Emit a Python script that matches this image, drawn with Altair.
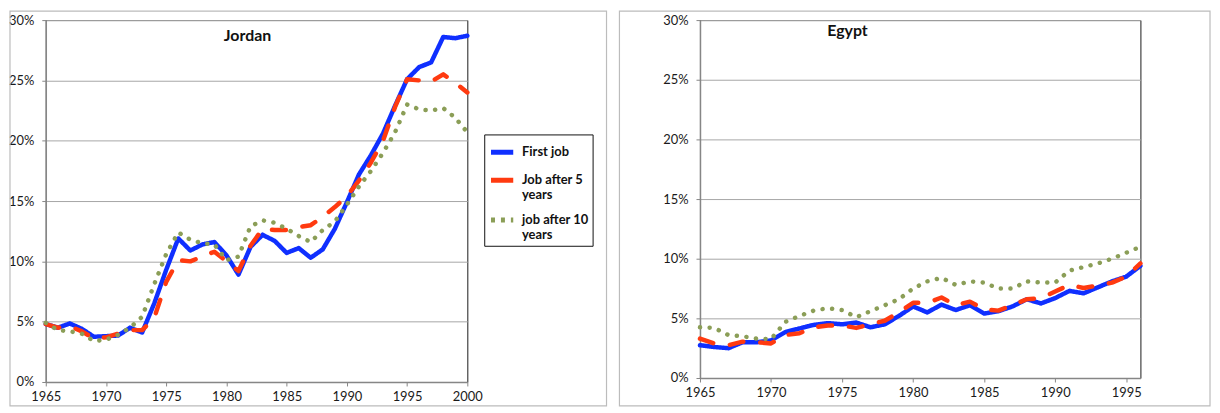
import altair as alt
import pandas as pd

# ---------------- data (percent of workers) ----------------
series_names = ["First job", "Job after 5 years", "job after 10 years"]
series_colors = ["#0f2fff", "#ff3a10", "#8b9e57"]

jordan_years = list(range(1965, 2001))
jordan_first = [4.8, 4.5, 4.85, 4.4, 3.75, 3.8, 3.85, 4.5, 4.1, 6.5, 9.3, 11.9,
                10.9, 11.4, 11.6, 10.5, 8.9, 11.2, 12.2, 11.7, 10.7, 11.1, 10.3, 11.0,
                12.7, 14.9, 17.2, 18.8, 20.6, 22.9, 25.1, 26.1, 26.5, 28.6, 28.5, 28.7]
jordan_after5 = [4.8, 4.5, 4.6, 4.2, 3.6, 3.7, 4.0, 4.3, 4.3, 5.3, 8.3, 10.1,
                 10.0, 10.4, 10.8, 10.0, 9.2, 11.3, 12.7, 12.6, 12.6, 12.85, 13.0, 13.7,
                 14.5, 15.4, 16.7, 18.2, 20.0, 22.8, 25.1, 25.0, 24.9, 25.5, 24.8, 24.0]
jordan_after10 = [4.9, 4.3, 4.2, 4.0, 3.4, 3.5, 3.9, 4.5, 5.4, 8.1, 10.6, 12.4,
                  11.8, 11.5, 11.4, 10.1, 10.4, 12.9, 13.4, 13.2, 12.7, 12.1, 11.6, 12.6,
                  13.3, 14.7, 16.2, 17.5, 19.0, 20.7, 23.0, 22.6, 22.5, 22.7, 21.9, 20.7]

egypt_years = list(range(1965, 1997))
egypt_first = [2.75, 2.6, 2.5, 3.0, 3.0, 3.15, 3.85, 4.15, 4.45, 4.6, 4.5, 4.65,
               4.25, 4.5, 5.2, 6.0, 5.5, 6.15, 5.7, 6.1, 5.4, 5.6, 6.0, 6.6,
               6.25, 6.7, 7.3, 7.1, 7.6, 8.1, 8.5, 9.4]
egypt_after5 = [3.3, 2.9, 2.75, 3.05, 3.0, 2.9, 3.6, 3.75, 4.25, 4.4, 4.4, 4.2,
                4.5, 4.8, 5.5, 6.3, 6.3, 6.75, 6.1, 6.4, 5.75, 5.65, 6.1, 6.6,
                6.7, 7.25, 7.8, 7.55, 7.75, 8.0, 8.5, 9.6]
egypt_after10 = [4.25, 4.2, 3.6, 3.5, 3.3, 3.25, 4.7, 5.2, 5.65, 5.85, 5.7, 5.1,
                 5.6, 6.1, 6.6, 7.5, 8.1, 8.4, 7.8, 8.1, 8.0, 7.5, 7.5, 8.1,
                 8.0, 8.0, 9.0, 9.3, 9.6, 10.0, 10.5, 11.0]

jordan_xticks = [1965, 1970, 1975, 1980, 1985, 1990, 1995, 2000]
egypt_xticks = [1965, 1970, 1975, 1980, 1985, 1990, 1995]
y_ticks = [0, 5, 10, 15, 20, 25, 30]

# line styles: plot lines (round caps) and legend symbols (butt caps)
line_dashes = [[1, 0], [14, 17], [0.1, 9.6]]
legend_dashes = [[1, 0], [1, 0], [4, 6]]


def to_long(years, first, after5, after10):
    rows = []
    for name, vals in zip(series_names, [first, after5, after10]):
        for yr, v in zip(years, vals):
            rows.append({"year": yr, "share": v, "series": name})
    return pd.DataFrame(rows)


jordan_df = to_long(jordan_years, jordan_first, jordan_after5, jordan_after10)
egypt_df = to_long(egypt_years, egypt_first, egypt_after5, egypt_after10)
frame_df = pd.DataFrame({"k": [0]})

FONT = "Lato"


def panel(df, title, title_dx, title_dy, xdomain, xticks, width, height,
          frame_box, legend):
    color = alt.Color("series:N",
                      scale=alt.Scale(domain=series_names, range=series_colors),
                      legend=legend)
    base = alt.Chart(df).encode(
        x=alt.X("year:Q",
                scale=alt.Scale(domain=xdomain, nice=False, zero=False),
                axis=alt.Axis(values=xticks, format="d", title=None, grid=False,
                              labelFlush=False)),
        y=alt.Y("share:Q",
                scale=alt.Scale(domain=[0, 30], nice=False),
                axis=alt.Axis(values=y_ticks, labelExpr="datum.value + '%'",
                              title=None, labelFlush=False)),
        color=color,
    )
    layers = []
    for name, dash in zip(series_names, line_dashes):
        layers.append(
            base.transform_filter(alt.datum.series == name).mark_line(
                strokeWidth=4.5, strokeCap="round", strokeJoin="round",
                strokeDash=dash)
        )
    if legend is not None:
        # empty layer that only carries the dash styles into the legend
        layers.append(
            base.transform_filter("false").mark_line(strokeWidth=4.5).encode(
                strokeDash=alt.StrokeDash(
                    "series:N",
                    scale=alt.Scale(domain=series_names, range=legend_dashes),
                    legend=legend))
        )
    x0, x1, y0, y1 = frame_box
    frame = alt.Chart(frame_df).mark_rect(
        filled=False, stroke="#bcbcbc", strokeWidth=1.2
    ).encode(x=alt.value(x0), x2=alt.value(x1), y=alt.value(y0), y2=alt.value(y1))
    return alt.layer(frame, *layers).properties(
        width=width, height=height,
        title=alt.TitleParams(title, anchor="start", frame="group", dx=title_dx,
                              dy=title_dy, offset=0, baseline="top",
                              fontSize=16, fontWeight="bold", font=FONT,
                              color="#111111"),
    )


jordan_legend = alt.Legend(
    title=None, orient="none", legendX=441, legendY=115,
    strokeColor="#111111", fillColor="white", padding=4,
    symbolType="stroke", symbolSize=500, symbolStrokeWidth=5,
    labelFont=FONT, labelFontSize=13, labelFontWeight="bold",
    labelColor="#111111", labelOffset=6, rowPadding=4,
    labelExpr="split(replace(datum.label, ' years', '|years'), '|')",
)

jordan = panel(jordan_df, "Jordan", 179, 34, [1965, 2000], jordan_xticks,
               424, 364, (-36, 564, -9, 388), jordan_legend)
egypt = panel(egypt_df, "Egypt", 128, 29, [1965, 1996], egypt_xticks,
              443, 360, (-81, 513, -9, 388), None)

chart = alt.hconcat(jordan, egypt, spacing=9).resolve_scale(
    color="independent", strokeDash="independent"
).resolve_legend(
    color="independent", strokeDash="independent"
).properties(
    padding={"left": 0, "top": 0, "right": 0, "bottom": 0}, background="white"
).configure_view(
    stroke="#1a1a1a", strokeWidth=1
).configure_axis(
    labelFont=FONT, labelFontSize=13, labelColor="#1a1a1a",
    gridColor="#a6a6a6", gridWidth=1,
    tickColor="#868686", tickSize=4, tickWidth=1,
    domainColor="#868686", domainWidth=1.5,
).configure_axisX(
    labelPadding=5
).configure_axisY(
    labelPadding=8
)

chart.save("out.html", embed_options={"renderer": "svg", "actions": False})
